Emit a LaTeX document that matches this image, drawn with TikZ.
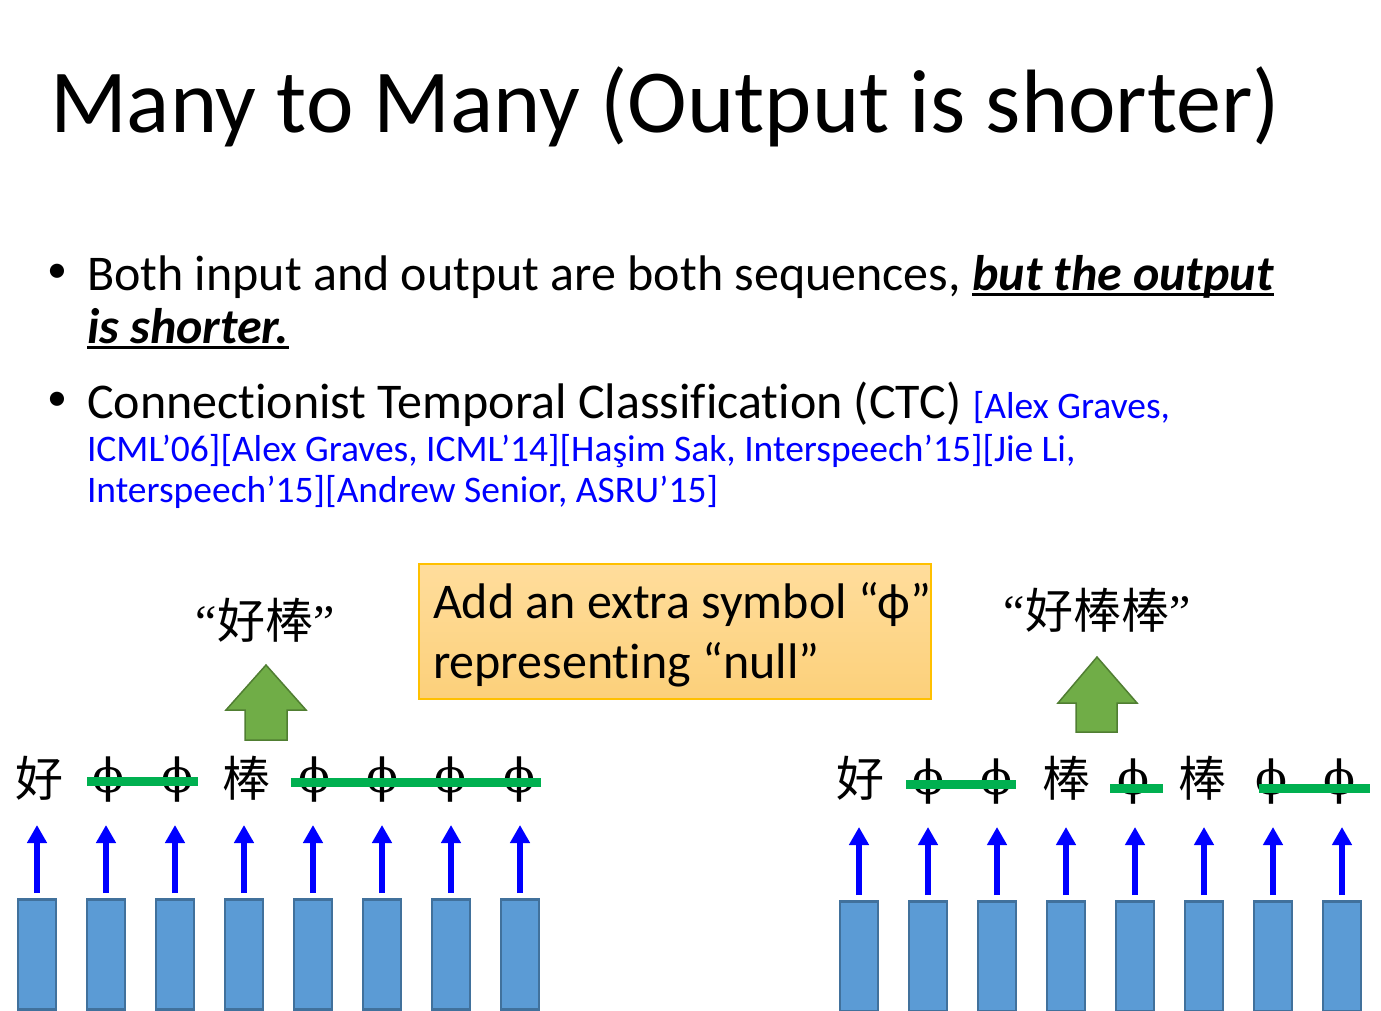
\documentclass[tikz,border=0pt]{standalone}
\usepackage{fontspec}
\setmainfont{Carlito}[Ligatures=NoCommon]
\newfontfamily\cjk{Noto Sans CJK SC}
\newfontfamily\phifont{DejaVu Serif}
\newfontfamily\qfont{Liberation Serif}
\usetikzlibrary{arrows.meta}
\definecolor{barfill}{HTML}{5B9BD5}
\definecolor{barline}{HTML}{41719C}
\definecolor{strikegreen}{HTML}{00B050}
\definecolor{arrfill}{HTML}{70AD47}
\definecolor{arrline}{HTML}{507E32}
\definecolor{boxline}{HTML}{FFC000}
\definecolor{boxtop}{HTML}{FFDD9C}
\definecolor{boxbot}{HTML}{FCD07A}
\definecolor{citeblue}{HTML}{0000FF}
\newcommand\myul[1]{\setbox0\hbox{#1}\rlap{\rule[-6pt]{\wd0}{3pt}}\box0}
\tikzset{
  txt/.style={anchor=base west, inner sep=0pt, outer sep=0pt},
  bigtxt/.style={txt, font=\fontsize{50}{54}\selectfont},
  citetxt/.style={txt, font=\fontsize{37.5}{40}\selectfont, text=citeblue},
  bar/.style={draw=barline, line width=2.5pt, fill=barfill, minimum width=38pt, minimum height=110pt, inner sep=0pt, anchor=north},
  uparrow/.style={draw=citeblue, line width=6pt, -{Triangle[width=19pt,length=18pt]}},
  sym/.style={inner sep=0pt, anchor=center, font=\fontsize{48}{50}\selectfont\cjk},
  phisym/.style={inner sep=0pt, anchor=center, font=\fontsize{47}{49}\selectfont\phifont},
  strike/.style={draw=strikegreen, line width=9pt},
  blockarrow/.style={draw=arrline, line width=1.5pt, fill=arrfill},
}
\begin{document}
\begin{tikzpicture}[x=1pt,y=-1pt]
\useasboundingbox (0,0) rectangle (1381,1011);
% title
\node[txt, font=\fontsize{90}{96}\selectfont] (title) at (50,133) {Many to Many (Output is shorter)};
% bullets
\node[inner sep=0pt, font=\fontsize{40}{44}\selectfont] (d1) at (57,273) {•};
\node[bigtxt] (b1) at (87,290) {Both input and output are both sequences, \myul{\textbf{\textit{but the output}}}};
\node[bigtxt] (b1b) at (87,343) {\myul{\textbf{\textit{is shorter.}}}};
\node[inner sep=0pt, font=\fontsize{40}{44}\selectfont] (d2) at (57,401) {•};
\node[bigtxt] (b2) at (87,418) {Connectionist Temporal Classification (CTC) {\fontsize{37.5}{40}\selectfont\color{citeblue}[Alex Graves,}};
\node[citetxt] (b2b) at (87,461) {ICML’06][Alex Graves, ICML’14][Haşim Sak, Interspeech’15][Jie Li,};
\node[citetxt] (b2c) at (87,502) {Interspeech’15][Andrew Senior, ASRU’15]};
% box
\node[draw=boxline, line width=2pt, top color=boxtop, bottom color=boxbot, minimum width=512pt, minimum height=135pt, inner sep=0pt, anchor=north west] (box) at (418,563) {};
\node[bigtxt] (bt1) at (433,618) {Add an extra symbol “ϕ”};
\node[bigtxt] (bt2) at (433,678) {representing “null”};
% outputs
\node[inner sep=0pt, font=\fontsize{48}{50}\selectfont] (o1) at (265,620) {{\qfont “}{\cjk 好棒}{\qfont ”}};
\node[inner sep=0pt, font=\fontsize{48}{50}\selectfont] (o2) at (1097,610) {{\qfont “}{\cjk 好棒棒}{\qfont ”}};
% green block arrows
\draw[blockarrow] (266,665) -- (306,710) -- (287,710) -- (287,740) -- (245,740) -- (245,710) -- (226,710) -- cycle;
\draw[blockarrow] (1097,657) -- (1137,703) -- (1117,703) -- (1117,732) -- (1076,732) -- (1076,703) -- (1058,703) -- cycle;
% left symbols
\node[sym] (s1) at (40,778) {好};
\node[phisym] (s2) at (109,780) {ϕ};
\node[phisym] (s3) at (178,780) {ϕ};
\node[sym] (s4) at (246,778) {棒};
\node[phisym] (s5) at (315,780) {ϕ};
\node[phisym] (s6) at (383,780) {ϕ};
\node[phisym] (s7) at (451,780) {ϕ};
\node[phisym] (s8) at (520,780) {ϕ};
\draw[strike] (87,781) -- (198,781);
\draw[strike] (291,782) -- (541,782);
% right symbols
\node[sym] (r1) at (860,778) {好};
\node[phisym] (r2) at (929,782) {ϕ};
\node[phisym] (r3) at (997,782) {ϕ};
\node[sym] (r4) at (1066,778) {棒};
\node[phisym] (r5) at (1134,782) {ϕ};
\node[sym] (r6) at (1202,778) {棒};
\node[phisym] (r7) at (1272,782) {ϕ};
\node[phisym] (r8) at (1340,782) {ϕ};
\draw[strike] (906,784) -- (1016,784);
\draw[strike] (1110,788) -- (1163,788);
\draw[strike] (1259,788) -- (1370,788);
% bars and arrows
\foreach \i/\x in {1/37,2/106,3/175,4/244,5/313,6/382,7/451,8/520} {
  \node[bar] (L\i) at (\x,898) {};
  \draw[uparrow] ([yshift=5pt]L\i.north) -- ++(0,-68);
}
\foreach \i/\x in {1/859,2/928,3/997,4/1066,5/1135,6/1204,7/1273,8/1342} {
  \node[bar] (R\i) at (\x,900) {};
  \draw[uparrow] ([yshift=5pt]R\i.north) -- ++(0,-68);
}
\end{tikzpicture}
\end{document}
